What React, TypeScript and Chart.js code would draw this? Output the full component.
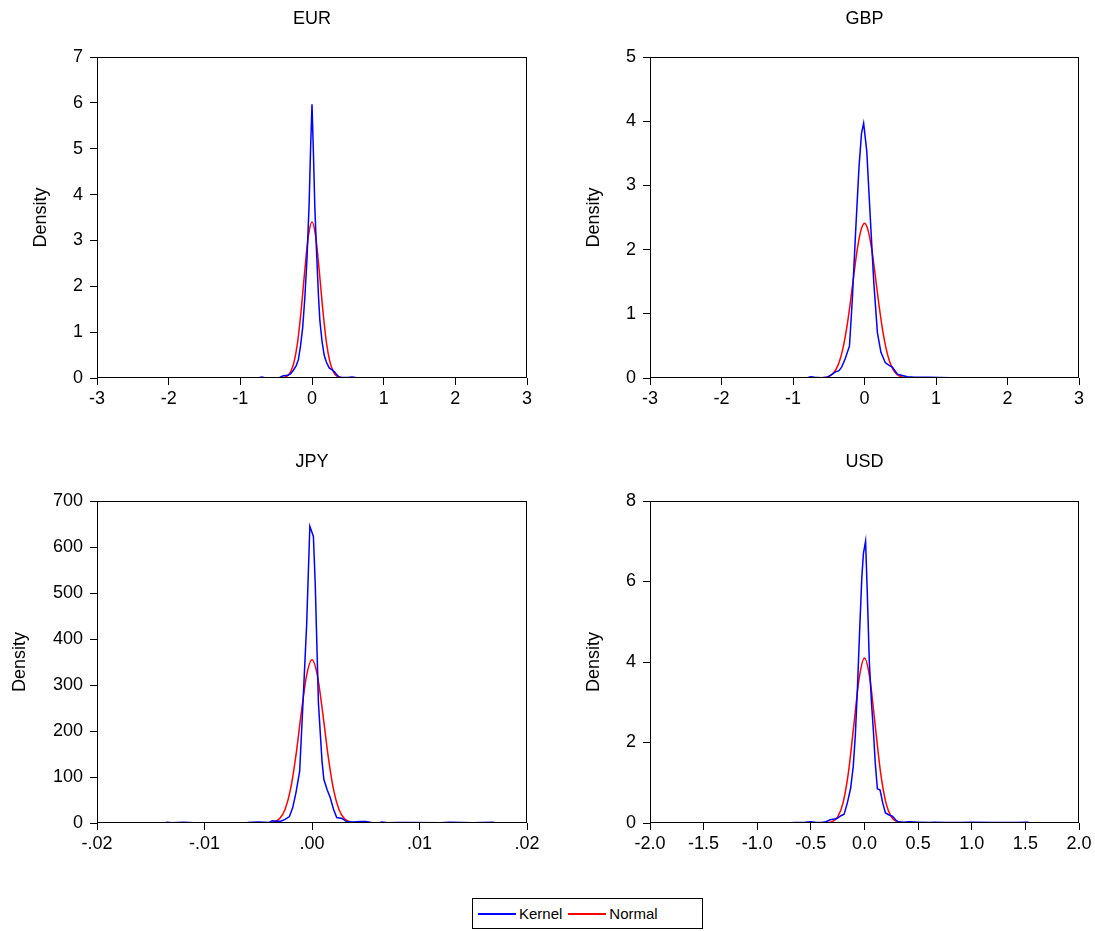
import React, { useEffect, useRef } from 'react';
import { Chart, registerables } from 'chart.js';

Chart.register(...registerables);

const FONT = '"Liberation Sans", Arial, Helvetica, sans-serif';
const TICK_SIZE = 18;
const TITLE_SIZE = 18;

// ---------- EUR ----------
const eurKernelX = [-1.6, -1.0, -0.74, -0.7, -0.66, -0.45, -0.4, -0.34, -0.3, -0.26, -0.22, -0.19, -0.16, -0.13, -0.1, -0.07, -0.04, -0.02, 0.0, 0.02, 0.04, 0.065, 0.09, 0.11, 0.14, 0.17, 0.2, 0.24, 0.28, 0.31, 0.34, 0.37, 0.41, 0.5, 0.56, 0.62, 0.9, 1.2, 1.5, 1.95];
const eurKernelY = [0, 0.003, 0.004, 0.02, 0.004, 0.01, 0.05, 0.06, 0.09, 0.17, 0.27, 0.4, 0.7, 1.1, 1.75, 2.6, 3.8, 5.0, 5.97, 4.9, 3.7, 2.7, 1.8, 1.25, 0.8, 0.5, 0.35, 0.22, 0.18, 0.14, 0.08, 0.03, 0.01, 0.01, 0.02, 0.005, 0.005, 0.003, 0.002, 0];
const eurNormalX = [-2.07, -0.6, -0.5, -0.45, -0.4, -0.35, -0.3, -0.25, -0.2, -0.15, -0.1, -0.05, 0, 0.05, 0.1, 0.15, 0.2, 0.25, 0.3, 0.35, 0.4, 0.45, 0.5, 0.6, 2.07];
const eurNormalY = [0, 0, 0.001, 0.004, 0.01, 0.04, 0.13, 0.35, 0.79, 1.5, 2.36, 3.1, 3.4, 3.1, 2.36, 1.5, 0.79, 0.35, 0.13, 0.04, 0.01, 0.004, 0.001, 0, 0];
const eurXTicks = [-3, -2, -1, 0, 1, 2, 3];
const eurYTicks = [0, 1, 2, 3, 4, 5, 6, 7];

// ---------- GBP ----------
const gbpKernelX = [-2.5, -1.0, -0.8, -0.75, -0.7, -0.6, -0.52, -0.45, -0.4, -0.36, -0.32, -0.27, -0.21, -0.17, -0.125, -0.076, -0.042, -0.012, 0.032, 0.08, 0.13, 0.18, 0.23, 0.29, 0.34, 0.39, 0.46, 0.53, 0.6, 0.7, 0.9, 1.2, 1.6, 2.0, 2.5];
const gbpKernelY = [0, 0.003, 0.005, 0.02, 0.01, 0.005, 0.01, 0.06, 0.1, 0.11, 0.17, 0.3, 0.5, 1.23, 2.26, 3.3, 3.81, 3.97, 3.53, 2.52, 1.49, 0.71, 0.4, 0.24, 0.2, 0.17, 0.06, 0.04, 0.02, 0.01, 0.01, 0.005, 0.005, 0.003, 0];
const gbpNormalX = [-2.72, -0.8, -0.7, -0.6, -0.5, -0.45, -0.4, -0.35, -0.3, -0.25, -0.2, -0.15, -0.1, -0.05, 0, 0.05, 0.1, 0.15, 0.2, 0.25, 0.3, 0.35, 0.4, 0.45, 0.5, 0.6, 0.7, 0.8, 2.74];
const gbpNormalY = [0, 0, 0.0005, 0.003, 0.025, 0.06, 0.13, 0.26, 0.47, 0.77, 1.16, 1.6, 2.01, 2.3, 2.41, 2.3, 2.01, 1.6, 1.16, 0.77, 0.47, 0.26, 0.13, 0.06, 0.025, 0.003, 0.0005, 0, 0];
const gbpXTicks = [-3, -2, -1, 0, 1, 2, 3];
const gbpYTicks = [0, 1, 2, 3, 4, 5];

// ---------- JPY ----------
const jpyKernelX = [-0.0137, -0.0135, -0.013, -0.012, -0.011, -0.008, -0.006, -0.005, -0.0045, -0.004, -0.0037, -0.0033, -0.0029, -0.0025, -0.0021, -0.0018, -0.0015, -0.00115, -0.0008, -0.0005, -0.0002, 0.00013, 0.0003, 0.0006, 0.00093, 0.0011, 0.0014, 0.0017, 0.002, 0.0023, 0.0028, 0.0032, 0.0038, 0.0045, 0.005, 0.0055, 0.0063, 0.0065, 0.007, 0.008, 0.009, 0.012, 0.0128, 0.015, 0.0168, 0.0172];
const jpyKernelY = [0, 1.5, 0.5, 1.5, 0.5, 0.5, 1, 2, 1.5, 1, 5, 4, 4, 8, 14, 33, 65, 112, 280, 430, 645, 623, 520, 260, 135, 95, 73, 55, 30, 12, 10, 3, 2, 3, 3.5, 1, 0.5, 2, 0.5, 1, 1, 0.5, 1.5, 0.5, 1.5, 0];
const jpyNormalX = [-0.0188, -0.006, -0.005, -0.0045, -0.004, -0.0035, -0.003, -0.0025, -0.002, -0.0015, -0.001, -0.0005, 0, 0.0005, 0.001, 0.0015, 0.002, 0.0025, 0.003, 0.0035, 0.004, 0.0045, 0.005, 0.006, 0.0188];
const jpyNormalY = [0, 0, 0.05, 0.2, 0.6, 2.8, 10, 30, 73, 146, 239, 321, 355, 321, 239, 146, 73, 30, 10, 2.8, 0.6, 0.2, 0.05, 0, 0];
const jpyXTicks = [-0.02, -0.01, 0, 0.01, 0.02];
const jpyYTicks = [0, 100, 200, 300, 400, 500, 600, 700];

// ---------- USD ----------
const usdKernelX = [-0.73, -0.65, -0.55, -0.5, -0.45, -0.4, -0.36, -0.32, -0.28, -0.25, -0.22, -0.19, -0.16, -0.13, -0.105, -0.085, -0.065, -0.045, -0.025, -0.01, 0.01, 0.025, 0.045, 0.065, 0.085, 0.1, 0.12, 0.145, 0.17, 0.195, 0.23, 0.26, 0.29, 0.31, 0.36, 0.42, 0.5, 0.6, 0.65, 0.75, 0.9, 1.0, 1.2, 1.4, 1.52, 1.55];
const usdKernelY = [0, 0.01, 0.02, 0.03, 0.01, 0.01, 0.03, 0.08, 0.1, 0.12, 0.18, 0.22, 0.5, 0.85, 1.4, 2.2, 3.4, 4.8, 6.1, 6.7, 7.0, 5.8, 4.0, 3.0, 2.2, 1.5, 0.85, 0.82, 0.5, 0.25, 0.2, 0.17, 0.08, 0.04, 0.02, 0.03, 0.02, 0.01, 0.02, 0.01, 0.01, 0.02, 0.01, 0.01, 0.02, 0];
const usdNormalX = [-1.674, -0.5, -0.4, -0.35, -0.3, -0.25, -0.2, -0.15, -0.1, -0.05, 0, 0.05, 0.1, 0.15, 0.2, 0.25, 0.3, 0.35, 0.4, 0.5, 1.674];
const usdNormalY = [0, 0, 0.001, 0.006, 0.035, 0.15, 0.5, 1.25, 2.42, 3.59, 4.1, 3.59, 2.42, 1.25, 0.5, 0.15, 0.035, 0.006, 0.001, 0, 0];
const usdXTicks = [-2, -1.5, -1, -0.5, 0, 0.5, 1, 1.5, 2];
const usdYTicks = [0, 2, 4, 6, 8];

const legendLabels = ['Kernel', 'Normal'];
const legendColors = ['#0000FF', '#FF0000'];

const fmtInt = (v: number) => String(Math.round(v));
const fmtDot2 = (v: number) => {
  const s = v.toFixed(2);
  return s.replace('0.', '.');
};
const fmt1 = (v: number) => v.toFixed(1);

type PanelProps = {
  title: string;
  kx: number[]; ky: number[]; nx: number[]; ny: number[];
  xTicks: number[]; yTicks: number[];
  xFmt: (v: number) => string; yFmt: (v: number) => string;
  box: { left: number; top: number; width: number; height: number };
  plot: { left: number; right: number; top: number; bottom: number };
  titleY: number; densityX: number;
};

function Panel(p: PanelProps) {
  const ref = useRef<HTMLCanvasElement | null>(null);
  useEffect(() => {
    if (!ref.current) return;
    const toPts = (xs: number[], ys: number[]) => xs.map((x, i) => ({ x, y: ys[i] }));
    const yTitleLine = TICK_SIZE * 1.2;
    const framePlugin = {
      id: 'frameAndTitle',
      afterDraw(chart: any) {
        const { ctx, chartArea } = chart;
        ctx.save();
        ctx.strokeStyle = '#000';
        ctx.lineWidth = 1;
        ctx.strokeRect(chartArea.left + 0.5, chartArea.top + 0.5, chartArea.right - chartArea.left - 1, chartArea.bottom - chartArea.top - 1);
        ctx.fillStyle = '#000';
        ctx.font = `${TITLE_SIZE}px ${FONT}`;
        ctx.textAlign = 'center';
        ctx.textBaseline = 'middle';
        ctx.fillText(p.title, (chartArea.left + chartArea.right) / 2, p.titleY);
        ctx.restore();
      },
    };
    const chart = new Chart(ref.current, {
      type: 'line',
      data: {
        datasets: [
          {
            label: legendLabels[0],
            data: toPts(p.kx, p.ky),
            borderColor: legendColors[0],
            borderWidth: 1.5,
            pointRadius: 0,
            tension: 0,
            fill: false,
          },
          {
            label: legendLabels[1],
            data: toPts(p.nx, p.ny),
            borderColor: legendColors[1],
            borderWidth: 1.5,
            pointRadius: 0,
            cubicInterpolationMode: 'monotone',
            fill: false,
          },
        ],
      },
      options: {
        animation: false,
        responsive: false,
        maintainAspectRatio: false,
        events: [],
        layout: {
          padding: { left: 0, top: p.plot.top, right: p.box.width - p.plot.right, bottom: 0 },
        },
        plugins: { legend: { display: false }, tooltip: { enabled: false }, title: { display: false } },
        scales: {
          x: {
            type: 'linear',
            min: p.xTicks[0],
            max: p.xTicks[p.xTicks.length - 1],
            afterFit: (s: any) => { s.height = p.box.height - p.plot.bottom; },
            afterBuildTicks: (s: any) => { s.ticks = p.xTicks.map((v) => ({ value: v })); },
            grid: { display: true, drawOnChartArea: false, drawTicks: true, tickLength: 7, color: '#000', lineWidth: 1 },
            border: { display: false },
            ticks: {
              autoSkip: false, maxRotation: 0, padding: 3, color: '#000',
              font: { size: TICK_SIZE, family: FONT },
              callback: (v: any) => p.xFmt(Number(v)),
            },
          },
          y: {
            type: 'linear',
            min: p.yTicks[0],
            max: p.yTicks[p.yTicks.length - 1],
            afterFit: (s: any) => { s.width = p.plot.left; },
            afterBuildTicks: (s: any) => { s.ticks = p.yTicks.map((v) => ({ value: v })); },
            grid: { display: true, drawOnChartArea: false, drawTicks: true, tickLength: 7, color: '#000', lineWidth: 1 },
            border: { display: false },
            ticks: {
              autoSkip: false, padding: 7, color: '#000',
              font: { size: TICK_SIZE, family: FONT },
              callback: (v: any) => p.yFmt(Number(v)),
            },
            title: {
              display: true,
              text: 'Density',
              color: '#000',
              font: { size: TICK_SIZE, family: FONT },
              padding: { top: p.densityX - yTitleLine / 2, bottom: 0 },
            },
          },
        },
      },
      plugins: [framePlugin],
    } as any);
    return () => chart.destroy();
  }, []);
  return (
    <canvas
      ref={ref}
      width={p.box.width}
      height={p.box.height}
      style={{ position: 'absolute', left: p.box.left, top: p.box.top, width: p.box.width, height: p.box.height }}
    />
  );
}

export default function App() {
  useEffect(() => {
    document.body.style.margin = '0';
    document.body.style.background = '#fff';
  }, []);
  const box = (left: number, top: number, width: number) => ({ left, top, width, height: 440 });
  const plotL = { left: 97, right: 527, top: 57, bottom: 378 };
  const plotR = { left: 102, right: 531, top: 57, bottom: 378 };
  const plotL2 = { left: 97, right: 527, top: 81, bottom: 403 };
  const plotR2 = { left: 102, right: 531, top: 81, bottom: 403 };
  return (
    <div style={{ position: 'relative', width: 1095, height: 931, background: '#fff', fontFamily: FONT }}>
      <Panel title="EUR" kx={eurKernelX} ky={eurKernelY} nx={eurNormalX} ny={eurNormalY}
        xTicks={eurXTicks} yTicks={eurYTicks} xFmt={fmtInt} yFmt={fmtInt}
        box={box(0, 0, 548)} plot={plotL} titleY={19} densityX={41.5} />
      <Panel title="GBP" kx={gbpKernelX} ky={gbpKernelY} nx={gbpNormalX} ny={gbpNormalY}
        xTicks={gbpXTicks} yTicks={gbpYTicks} xFmt={fmtInt} yFmt={fmtInt}
        box={box(548, 0, 547)} plot={plotR} titleY={19} densityX={46} />
      <Panel title="JPY" kx={jpyKernelX} ky={jpyKernelY} nx={jpyNormalX} ny={jpyNormalY}
        xTicks={jpyXTicks} yTicks={jpyYTicks} xFmt={fmtDot2} yFmt={fmtInt}
        box={box(0, 420, 548)} plot={plotL2} titleY={42} densityX={20.5} />
      <Panel title="USD" kx={usdKernelX} ky={usdKernelY} nx={usdNormalX} ny={usdNormalY}
        xTicks={usdXTicks} yTicks={usdYTicks} xFmt={fmt1} yFmt={fmtInt}
        box={box(548, 420, 547)} plot={plotR2} titleY={42} densityX={46} />
      <div style={{
        position: 'absolute', left: 472, top: 898, width: 231, height: 31,
        border: '1px solid #000', boxSizing: 'border-box',
        display: 'flex', alignItems: 'center', paddingLeft: 5,
        fontSize: 15, color: '#000', whiteSpace: 'nowrap', background: '#fff',
      }}>
        {legendLabels.map((lab, i) => (
          <React.Fragment key={lab}>
            <span style={{ display: 'inline-block', flex: '0 0 auto', width: 38, height: 2, backgroundColor: legendColors[i], marginRight: 3 }} />
            <span style={{ marginRight: 6 }}>{lab}</span>
          </React.Fragment>
        ))}
      </div>
    </div>
  );
}
